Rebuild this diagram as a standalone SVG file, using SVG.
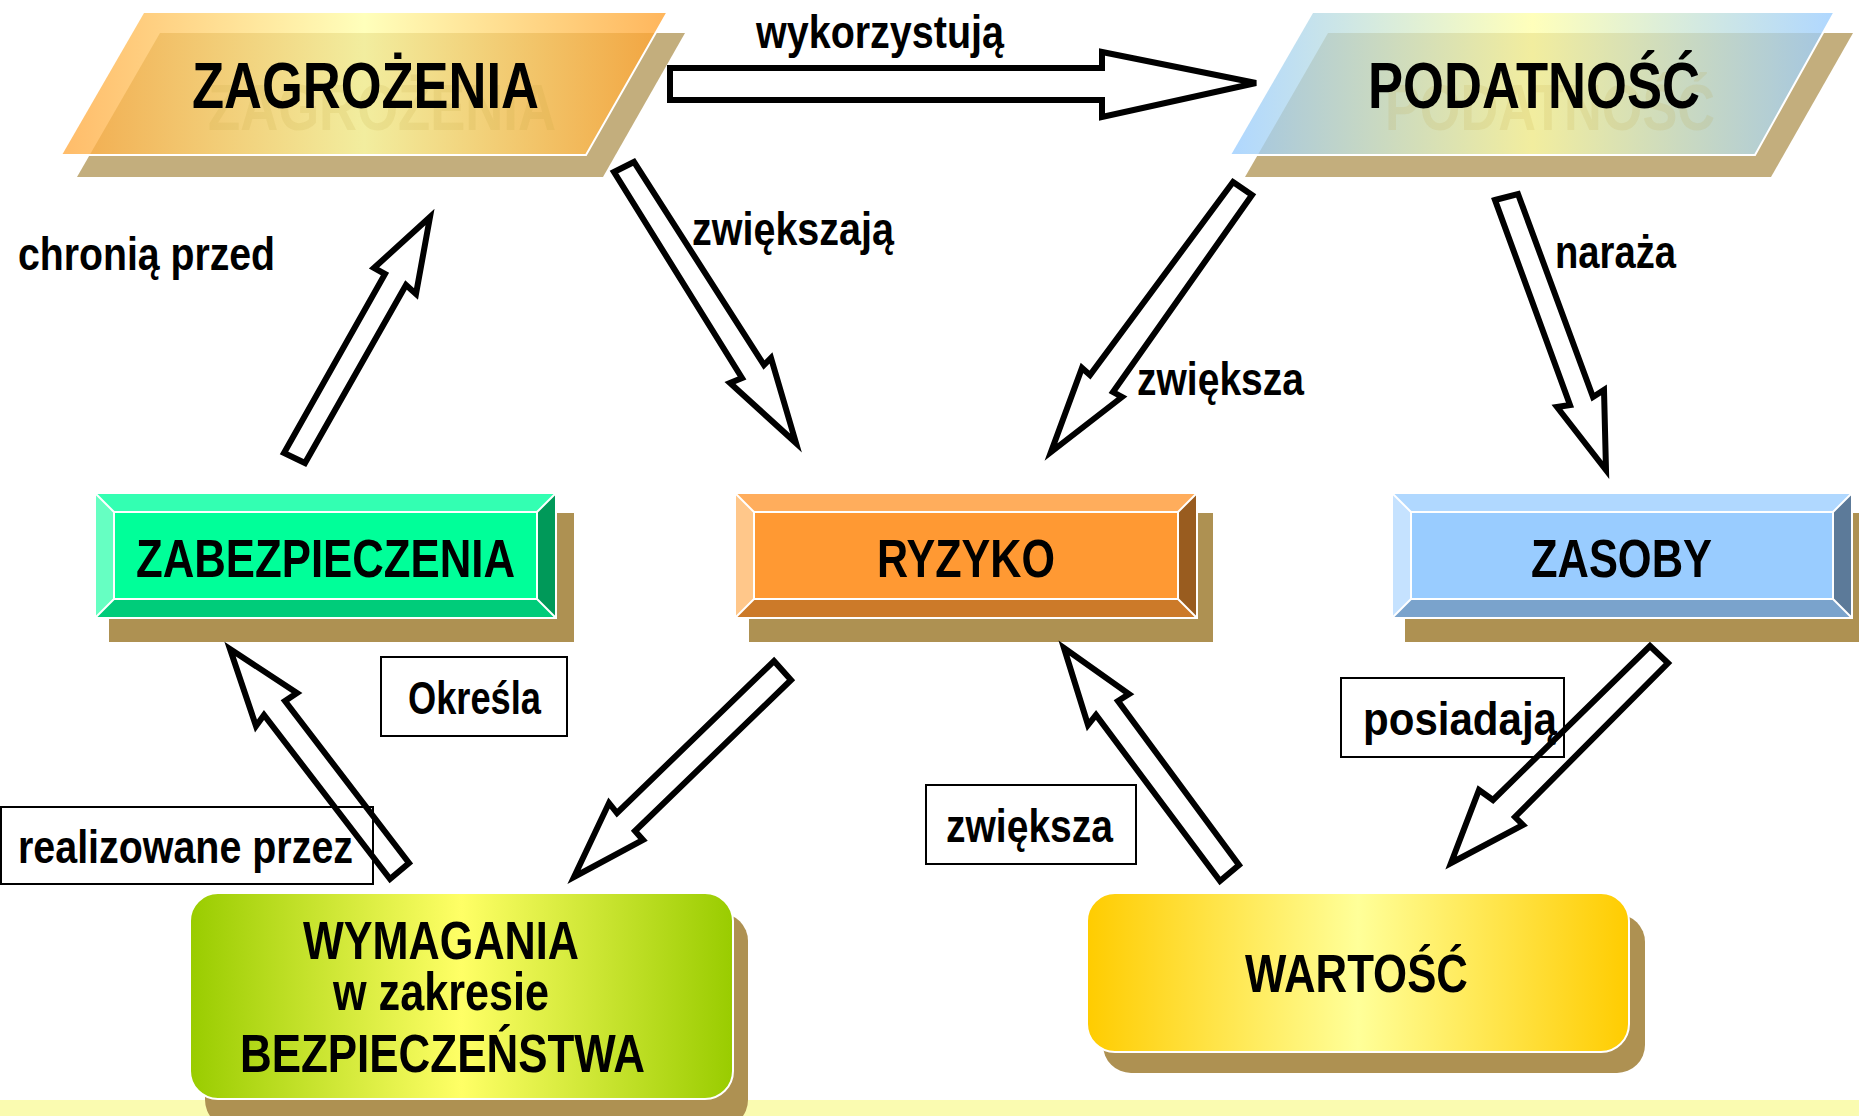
<svg xmlns="http://www.w3.org/2000/svg" width="1859" height="1116" viewBox="0 0 1859 1116">
<defs>
<linearGradient id="gZag" x1="0" y1="0" x2="1" y2="0">
<stop offset="0" stop-color="#FFA93F"/><stop offset="0.5" stop-color="#FFFFA8"/><stop offset="1" stop-color="#FFA12E"/>
</linearGradient>
<linearGradient id="gPod" x1="0" y1="0" x2="1" y2="0">
<stop offset="0" stop-color="#99CCFF"/><stop offset="0.5" stop-color="#FFFFA8"/><stop offset="1" stop-color="#99CCFF"/>
</linearGradient>
<linearGradient id="gWym" x1="0" y1="0" x2="1" y2="0">
<stop offset="0" stop-color="#99CC00"/><stop offset="0.5" stop-color="#FFFF66"/><stop offset="1" stop-color="#99CC00"/>
</linearGradient>
<linearGradient id="gWar" x1="0" y1="0" x2="1" y2="0">
<stop offset="0" stop-color="#FFCC00"/><stop offset="0.5" stop-color="#FFFF99"/><stop offset="1" stop-color="#FFCC00"/>
</linearGradient>
</defs>
<style>
.t{font-family:"Liberation Sans Narrow","Liberation Sans",Arial,sans-serif;font-weight:bold;fill:#000}
.big{font-size:64px}
.mid{font-size:54px}
.lbl{font-size:46px}
.ghost{fill:#B89A30;fill-opacity:0.13}
.pshadow{fill:#C3AE7D}
.bshadow{fill:#AE9152}
.arrow{fill:#fff;stroke:#000;stroke-width:6;stroke-linejoin:miter}
.lbox{fill:none;stroke:#000;stroke-width:2}
.wl{fill:none;stroke:#fff;stroke-width:2}
</style>
<rect x="0" y="0" width="1859" height="1116" fill="#fff"/>
<rect x="0" y="1100" width="1859" height="16" fill="#FAFBB0"/>

<g id="node-zagrozenia">
<polygon class="pshadow" points="160,33 685,33 603,177 77,177"/>
<polygon points="144,13 667,13 586,155 62,155" fill="url(#gZag)" fill-opacity="0.78"/>
<polyline class="wl" points="62,155 586,155 667,13"/>
<text class="t big ghost" x="208" y="130" textLength="348" lengthAdjust="spacingAndGlyphs">ZAGROŻENIA</text>
<text class="t big" x="192" y="108" textLength="347" lengthAdjust="spacingAndGlyphs">ZAGROŻENIA</text>
</g>

<g id="node-podatnosc">
<polygon class="pshadow" points="1328,33 1853,33 1771,177 1245,177"/>
<polygon points="1313,13 1834,13 1755,155 1231,155" fill="url(#gPod)" fill-opacity="0.78"/>
<polyline class="wl" points="1231,155 1755,155 1834,13"/>
<text class="t big ghost" x="1385" y="130" textLength="330" lengthAdjust="spacingAndGlyphs">PODATNOŚĆ</text>
<text class="t big" x="1368" y="108" textLength="332" lengthAdjust="spacingAndGlyphs">PODATNOŚĆ</text>
</g>

<g id="node-zabezpieczenia">
<rect class="bshadow" x="109" y="513" width="465" height="129"/>
<polygon fill="#33FFB2" points="95,493 556,493 537,512 114,512"/>
<polygon fill="#00CC7A" points="95,618 556,618 537,599 114,599"/>
<polygon fill="#66FFC2" points="95,493 114,512 114,599 95,618"/>
<polygon fill="#009959" points="556,493 537,512 537,599 556,618"/>
<rect fill="#00FF99" x="114" y="512" width="423" height="87"/>
<rect class="wl" x="114" y="512" width="423" height="87"/>
<path class="wl" d="M95,493L114,512M556,493L537,512M95,618L114,599M556,618L537,599"/>
<rect class="wl" x="95" y="493" width="461" height="125" stroke-width="1.5"/>
<text class="t mid" x="136" y="577" textLength="379" lengthAdjust="spacingAndGlyphs">ZABEZPIECZENIA</text>
</g>

<g id="node-ryzyko">
<rect class="bshadow" x="749" y="513" width="464" height="129"/>
<polygon fill="#FFAD5C" points="735,493 1197,493 1178,512 754,512"/>
<polygon fill="#CC7A29" points="735,618 1197,618 1178,599 754,599"/>
<polygon fill="#FFC78A" points="735,493 754,512 754,599 735,618"/>
<polygon fill="#995C1F" points="1197,493 1178,512 1178,599 1197,618"/>
<rect fill="#FF9933" x="754" y="512" width="424" height="87"/>
<rect class="wl" x="754" y="512" width="424" height="87"/>
<path class="wl" d="M735,493L754,512M1197,493L1178,512M735,618L754,599M1197,618L1178,599"/>
<rect class="wl" x="735" y="493" width="462" height="125" stroke-width="1.5"/>
<text class="t mid" x="877" y="577" textLength="178" lengthAdjust="spacingAndGlyphs">RYZYKO</text>
</g>

<g id="node-zasoby">
<rect class="bshadow" x="1405" y="513" width="454" height="129"/>
<polygon fill="#B0D8FF" points="1392,493 1852,493 1833,512 1411,512"/>
<polygon fill="#7AA3CC" points="1392,618 1852,618 1833,599 1411,599"/>
<polygon fill="#C5E2FF" points="1392,493 1411,512 1411,599 1392,618"/>
<polygon fill="#5C7A99" points="1852,493 1833,512 1833,599 1852,618"/>
<rect fill="#99CCFF" x="1411" y="512" width="422" height="87"/>
<rect class="wl" x="1411" y="512" width="422" height="87"/>
<path class="wl" d="M1392,493L1411,512M1852,493L1833,512M1392,618L1411,599M1852,618L1833,599"/>
<rect class="wl" x="1392" y="493" width="460" height="125" stroke-width="1.5"/>
<text class="t mid" x="1531" y="577" textLength="181" lengthAdjust="spacingAndGlyphs">ZASOBY</text>
</g>

<g id="node-wymagania">
<rect class="bshadow" x="205" y="913" width="543" height="215" rx="28" ry="28"/>
<rect x="190" y="893" width="543" height="206" rx="28" ry="28" fill="url(#gWym)" stroke="#fff" stroke-width="2"/>
<text class="t mid" x="303" y="959" textLength="276" lengthAdjust="spacingAndGlyphs">WYMAGANIA</text>
<text class="t mid" x="333" y="1010" textLength="216" lengthAdjust="spacingAndGlyphs">w zakresie</text>
<text class="t mid" x="240" y="1072" textLength="405" lengthAdjust="spacingAndGlyphs">BEZPIECZEŃSTWA</text>
</g>

<g id="node-wartosc">
<rect class="bshadow" x="1103" y="914" width="542" height="159" rx="28" ry="28"/>
<rect x="1087" y="893" width="542" height="159" rx="28" ry="28" fill="url(#gWar)" stroke="#fff" stroke-width="2"/>
<text class="t mid" x="1245" y="992" textLength="223" lengthAdjust="spacingAndGlyphs">WARTOŚĆ</text>
</g>

<g id="connectors">
<polygon class="arrow" points="670,68 1102,68 1102,52 1256,83 1102,117 1102,100 670,100"/>
<polygon class="arrow" points="284,453 385,274 374,268 430,217 416,294 406,285 305,463"/>
<polygon class="arrow" points="614,172 634,162 764,365 771,358 796,443 730,383 742,378"/>
<polygon class="arrow" points="1233,182 1252,195 1113,392 1122,397 1051,452 1082,368 1090,375"/>
<polygon class="arrow" points="1495,200 1518,194 1593,397 1604,390 1606,470 1557,407 1570,405"/>
<polygon class="arrow" points="230,649 297,693 285,701 409,863 390,879 264,715 256,726"/>
<polygon class="arrow" points="774,661 791,680 635,831 643,840 574,877 609,803 617,813"/>
<polygon class="arrow" points="1064,648 1129,694 1118,701 1239,865 1220,881 1096,715 1088,725"/>
<polygon class="arrow" points="1650,646 1668,663 1515,817 1523,825 1451,863 1479,790 1493,800"/>
</g>

<g id="labels">
<text class="t lbl" x="756" y="48" textLength="248" lengthAdjust="spacingAndGlyphs">wykorzystują</text>
<text class="t lbl" x="18" y="270" textLength="257" lengthAdjust="spacingAndGlyphs">chronią przed</text>
<text class="t lbl" x="692" y="245" textLength="202" lengthAdjust="spacingAndGlyphs">zwiększają</text>
<text class="t lbl" x="1137" y="395" textLength="167" lengthAdjust="spacingAndGlyphs">zwiększa</text>
<text class="t lbl" x="1555" y="268" textLength="121" lengthAdjust="spacingAndGlyphs">naraża</text>
<rect class="lbox" x="381" y="657" width="186" height="79"/>
<text class="t lbl" x="408" y="714" textLength="133" lengthAdjust="spacingAndGlyphs">Określa</text>
<rect class="lbox" x="1" y="807" width="372" height="77"/>
<text class="t lbl" x="18" y="863" textLength="335" lengthAdjust="spacingAndGlyphs">realizowane przez</text>
<rect class="lbox" x="926" y="785" width="210" height="79"/>
<text class="t lbl" x="946" y="842" textLength="167" lengthAdjust="spacingAndGlyphs">zwiększa</text>
<rect class="lbox" x="1341" y="678" width="223" height="79"/>
<text class="t lbl" x="1363" y="735" textLength="194" lengthAdjust="spacingAndGlyphs">posiadają</text>
</g>
</svg>
